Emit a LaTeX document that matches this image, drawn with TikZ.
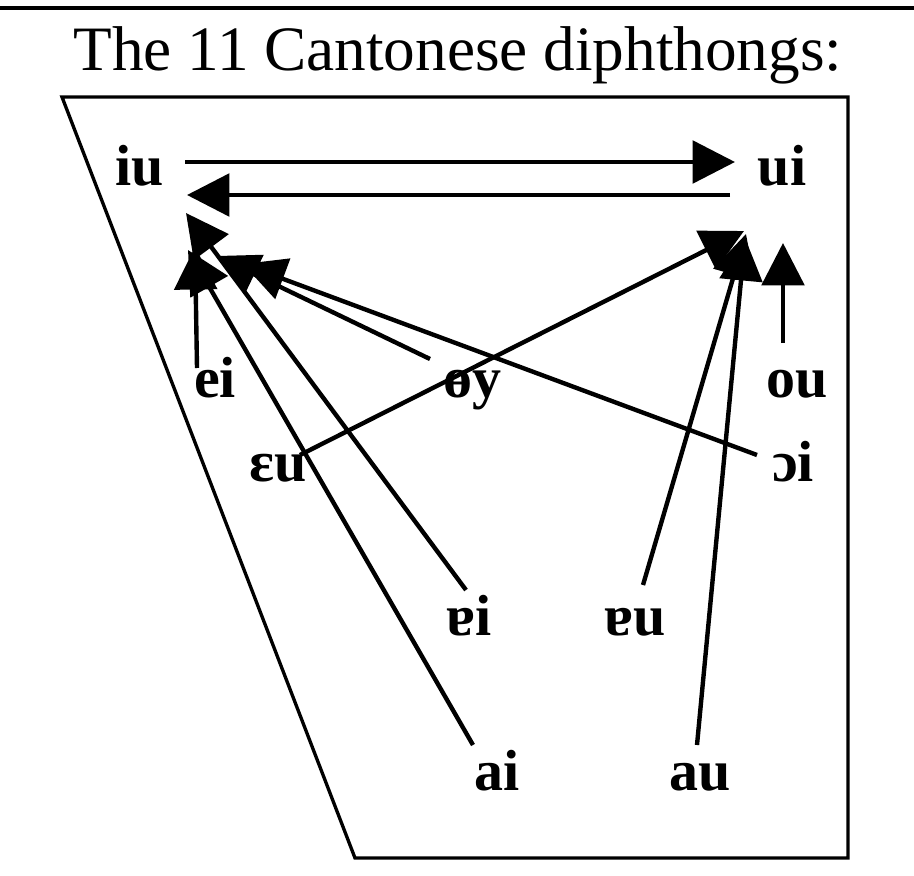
\documentclass[tikz,border=0pt]{standalone}
\usepackage{fontspec}
\setmainfont{Liberation Serif}
\usetikzlibrary{arrows.meta,calc}

\begin{document}
\begin{tikzpicture}[x=0.02cm,y=-0.02cm,every node/.style={font=\fontsize{33}{36}\selectfont\bfseries,inner sep=0pt,anchor=base}]
\useasboundingbox (0,0) rectangle (914,876);
\draw[line width=2.2pt] (0,8) -- (914,8);
\node[font=\fontsize{36}{40}\selectfont] (title) at (458,70) {The 11 Cantonese diphthongs:};
\draw[line width=1.9pt] (62,97) -- (848,97) -- (848,858) -- (355,858) -- cycle;
% the vowels
\node (iu) at (140,185) {iu};
\node (ui) at (782,185) {ui};
\node (ei) at (215,397) {ei};
\node (oey) at (472,397) {ɵy};
\node (ou) at (797,397) {ou};
\node (eu) at (278,481) {ɛu};
\node (oi) at (793,481) {ɔi};
\node (ai2) at (469,635) {ɐi};
\node (au2) at (635,635) {ɐu};
\node (ai) at (497,790) {ai};
\node (au) at (700,790) {au};
% arrow tips near iu and ui
\coordinate (ui1) at (735,162);
\coordinate (iu1) at (187,195);
\coordinate (iu2) at (195,247);
\coordinate (iu3) at (216,256);
\coordinate (iu4) at (243,264);
\coordinate (iu5) at (186,213);
\coordinate (iu6) at (188,250);
\coordinate (ui2) at (744,231);
\coordinate (ui3) at (746,234);
\coordinate (ui4) at (745,238);
\coordinate (ui5) at (783,243);
\draw[-{Triangle[length=0.85cm,width=0.85cm]},line width=2.5pt] ($(iu.base)+(45,-23)$) -- (ui1);
\draw[-{Triangle[length=0.85cm,width=0.85cm]},line width=2.5pt] ($(ui.base)+(-52,10)$) -- (iu1);
\draw[-{Triangle[length=0.85cm,width=0.85cm]},line width=2.5pt] ($(ei.base)+(-18,-29)$) -- (iu2);
\draw[-{Triangle[length=0.85cm,width=0.85cm]},line width=2.5pt] ($(oey.base)+(-42,-38)$) -- (iu3);
\draw[-{Triangle[length=0.85cm,width=0.85cm]},line width=2.5pt] ($(oi.base)+(-36,-26)$) -- (iu4);
\draw[-{Triangle[length=0.85cm,width=0.85cm]},line width=2.5pt] ($(ai2.base)+(-3,-45)$) -- (iu5);
\draw[-{Triangle[length=0.85cm,width=0.85cm]},line width=2.5pt] ($(ai.base)+(-24,-45)$) -- (iu6);
\draw[-{Triangle[length=0.85cm,width=0.85cm]},line width=2.5pt] ($(eu.base)+(22,-26)$) -- (ui2);
\draw[-{Triangle[length=0.85cm,width=0.85cm]},line width=2.5pt] ($(au2.base)+(8,-50)$) -- (ui3);
\draw[-{Triangle[length=0.85cm,width=0.85cm]},line width=2.5pt] ($(au.base)+(-3,-45)$) -- (ui4);
\draw[-{Triangle[length=0.85cm,width=0.85cm]},line width=2.5pt] ($(ou.base)+(-14,-54)$) -- (ui5);
\end{tikzpicture}
\end{document}
